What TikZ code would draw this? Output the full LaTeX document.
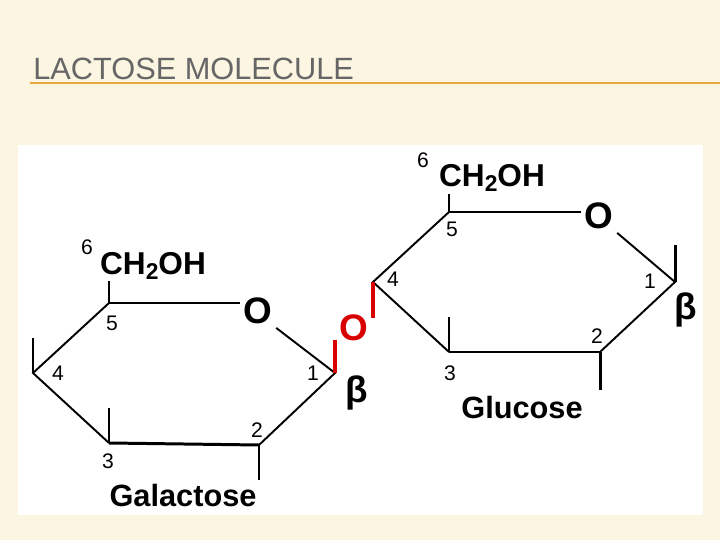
\documentclass[tikz,border=0pt]{standalone}
\usepackage{fontspec}
\setmainfont{Liberation Sans}
\definecolor{pagebg}{RGB}{251,245,226}
\definecolor{rule}{RGB}{232,170,60}
\begin{document}
\begin{tikzpicture}[x=0.02cm,y=-0.02cm]
\tikzset{bond/.style={black,line width=1.7pt},
  ring/.style={black,line width=1.1pt},
  link/.style={red!85!black,line width=2pt},
  atom/.style={inner sep=0pt,font=\fontsize{18}{18}\selectfont\bfseries},
  oxy/.style={inner sep=2pt,font=\fontsize{21}{21}\selectfont\bfseries},
  num/.style={inner sep=0pt,font=\fontsize{12}{12}\selectfont},
  sugar/.style={inner sep=0pt,font=\fontsize{17.5}{17.5}\selectfont\bfseries}}
\fill [pagebg] (0,0) rectangle (720,540);
\useasboundingbox (0,0) rectangle (720,540);
\fill [white] (18,145) rectangle (703,515);
\node [anchor=base west,inner sep=0pt,text=black!60,font=\fontsize{17.5}{17.5}\selectfont] (title) at (33,80) {LACTOSE MOLECULE};
\draw [rule,line width=0.6pt] (30,83) -- (720,83);
% galactose
\coordinate (g5) at (109,303);
\coordinate (g4) at (33,373);
\coordinate (g3) at (109,443);
\coordinate (g2) at (259,445);
\coordinate (g1) at (335,373);
\node [oxy] (gO) at (258,311) {O};
\node [atom] (gCH) at (153,266) {CH\raisebox{-0.35ex}{\fontsize{13}{13}\selectfont 2}OH};
\node [num] (g6) at (87,247) {6};
\draw [bond] (g5) -- (gO.west |- g5);
\draw [bond] (g5) -- (109,281);
\draw [ring] (g5) -- (g4) -- (g3);
\draw [ring] (gO.south east) -- (g1) -- (g2);
\draw [bond] (g3) -- (g2);
\draw [bond] (g4) -- (33,338);
\draw [bond] (g3) -- (109,408);
\draw [bond] (g2) -- (259,480);
\node [num] (gl5) at (112,323) {5};
\node [num] (gl4) at (58,373) {4};
\node [num] (gl3) at (108,461) {3};
\node [num] (gl2) at (257,430) {2};
\node [num] (gl1) at (313,373) {1};
\node [atom,font=\fontsize{21}{21}\selectfont\bfseries] (gb) at (357,393) {β};
\node [sugar] (gname) at (183,496) {Galactose};
% bridge
\node [oxy,text=red!85!black] (bO) at (354,328) {O};
% glucose
\coordinate (u5) at (449,212);
\coordinate (u4) at (373,282);
\coordinate (u3) at (449,352);
\coordinate (u2) at (600,352);
\coordinate (u1) at (675,282);
\node [oxy] (uO) at (599,216) {O};
\node [atom] (uCH) at (492,178) {CH\raisebox{-0.35ex}{\fontsize{13}{13}\selectfont 2}OH};
\node [num] (u6) at (423,160) {6};
\draw [bond] (u5) -- (uO.west |- u5);
\draw [bond] (u5) -- (449,194);
\draw [ring] (u5) -- (u4) -- (u3);
\draw [ring] (uO.south east) -- (u1) -- (u2);
\draw [bond] (u3) -- (u2);
\draw [bond] (u1) -- (675,245);
\draw [bond] (u3) -- (449,317);
\draw [bond] (u2) -- (600,390);
\draw [link] (g1) -- (335,340);
\draw [link] (u4) -- (373,318);
\node [num] (ul5) at (452,229) {5};
\node [num] (ul4) at (393,279) {4};
\node [num] (ul3) at (450,373) {3};
\node [num] (ul2) at (597,336) {2};
\node [num] (ul1) at (650,281) {1};
\node [atom,font=\fontsize{21}{21}\selectfont\bfseries] (ub) at (686,310) {β};
\node [sugar] (uname) at (522,408) {Glucose};
\end{tikzpicture}
\end{document}
